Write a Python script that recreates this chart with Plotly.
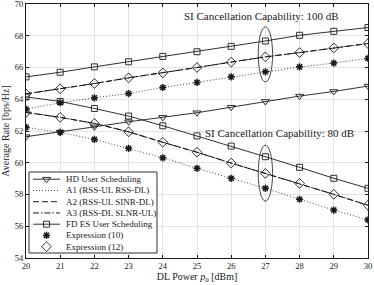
import plotly.graph_objects as go

# ---------------- data ----------------
dl_power = [20, 21, 22, 23, 24, 25, 26, 27, 28, 29, 30]

hd_sched = [61.64, 61.93, 62.26, 62.58, 62.86, 63.15, 63.50, 63.86, 64.20, 64.49, 64.83]

# SI cancellation 100 dB
fd_es_100 = [65.41, 65.70, 66.04, 66.36, 66.70, 66.99, 67.33, 67.67, 68.03, 68.28, 68.52]
a2_100 = [64.34, 64.66, 64.99, 65.35, 65.66, 66.00, 66.34, 66.67, 66.94, 67.23, 67.51]
a3_100 = [64.34, 64.66, 64.99, 65.35, 65.66, 66.00, 66.34, 66.67, 66.94, 67.23, 67.51]
a1_100 = [63.38, 63.78, 64.09, 64.36, 64.74, 65.06, 65.41, 65.73, 66.04, 66.28, 66.57]

# SI cancellation 80 dB
fd_es_80 = [64.15, 63.86, 63.42, 62.94, 62.33, 61.69, 61.05, 60.38, 59.71, 59.02, 58.39]
a2_80 = [63.17, 62.86, 62.48, 61.95, 61.29, 60.66, 59.98, 59.33, 58.70, 58.01, 57.32]
a3_80 = [63.17, 62.86, 62.48, 61.95, 61.29, 60.66, 59.98, 59.33, 58.70, 58.01, 57.32]
a1_80 = [62.23, 61.91, 61.47, 60.91, 60.31, 59.65, 59.02, 58.39, 57.70, 57.02, 56.40]

expr10_100 = a1_100
expr10_80 = a1_80
expr12_100 = a2_100
expr12_80 = a2_80

legend_labels = [
    "HD User Scheduling",
    "A1 (RSS-UL RSS-DL)",
    "A2 (RSS-UL SINR-DL)",
    "A3 (RSS-DL SLNR-UL)",
    "FD ES User Scheduling",
    "Expression (10)",
    "Expression (12)",
]

x_ticks = [20, 21, 22, 23, 24, 25, 26, 27, 28, 29, 30]
y_ticks = [54, 56, 58, 60, 62, 64, 66, 68, 70]

# ---------------- styles ----------------
FONT = "Liberation Serif"
INK = "#1a1a1a"
DOT = "1px,2px"
DASH = "6px,3px"
DASHDOT = "6px,2px,1.5px,2px"

styles = [
    dict(dash="solid", symbol="triangle-down-open", mode="lines+markers"),
    dict(dash=DOT, symbol=None, mode="lines"),
    dict(dash=DASH, symbol=None, mode="lines"),
    dict(dash=DASHDOT, symbol=None, mode="lines"),
    dict(dash="solid", symbol="square-open", mode="lines+markers"),
    dict(dash=None, symbol="asterisk-open", mode="markers"),
    dict(dash=None, symbol="diamond-open", mode="markers"),
]
marker_sizes = {"triangle-down-open": 7, "square-open": 6,
                "asterisk-open": 6, "diamond-open": 7.5}
line_widths = [0.9, 0.8, 1.0, 1.0, 0.9]


def marker_style(symbol):
    mw = 1.5 if symbol == "asterisk-open" else 0.9
    return dict(symbol=symbol, size=marker_sizes[symbol], color=INK,
                line=dict(color=INK, width=mw))


fig = go.Figure()


def add_series(y, idx):
    st = styles[idx]
    kw = dict(x=dl_power, y=y, mode=st["mode"], showlegend=False,
              hoverinfo="skip")
    if "lines" in st["mode"]:
        kw["line"] = dict(color=INK, width=line_widths[idx], dash=st["dash"])
    if st["symbol"]:
        kw["marker"] = marker_style(st["symbol"])
    fig.add_trace(go.Scatter(**kw))


add_series(hd_sched, 0)
for arrs in [(a1_100, a2_100, a3_100, fd_es_100, expr10_100, expr12_100),
             (a1_80, a2_80, a3_80, fd_es_80, expr10_80, expr12_80)]:
    a1, a2, a3, fd, e10, e12 = arrs
    add_series(a1, 1)
    add_series(a2, 2)
    add_series(a3, 3)
    add_series(fd, 4)
    add_series(e10, 5)
    add_series(e12, 6)

# ---------------- custom compact legend (pixel-like overlay axes) ----------------
W, H = 374, 285
ML, MR, MT, MB = 26, 6, 4, 27
box_l, box_r, box_t, box_b = 29, 157, 172, 253
fig.add_trace(go.Scatter(
    x=[box_l, box_r, box_r, box_l, box_l], y=[box_t, box_t, box_b, box_b, box_t],
    mode="lines", fill="toself", fillcolor="white",
    line=dict(color=INK, width=0.9), xaxis="x2", yaxis="y2",
    showlegend=False, hoverinfo="skip"))
row0, drow = 179.2, 11.25
for i, lab in enumerate(legend_labels):
    st = styles[i]
    yy = row0 + i * drow
    if "lines" in st["mode"]:
        fig.add_trace(go.Scatter(x=[33, 60], y=[yy, yy], mode="lines",
                                 line=dict(color=INK, width=line_widths[i], dash=st["dash"]),
                                 xaxis="x2", yaxis="y2", showlegend=False, hoverinfo="skip"))
    if st["symbol"]:
        fig.add_trace(go.Scatter(x=[46.5], y=[yy], mode="markers",
                                 marker=marker_style(st["symbol"]),
                                 xaxis="x2", yaxis="y2", showlegend=False, hoverinfo="skip"))
    fig.add_annotation(x=64, y=yy, xref="x2", yref="y2", text=lab, showarrow=False,
                       xanchor="left", yanchor="middle",
                       font=dict(family=FONT, size=9, color=INK))

# ---------------- annotations & ellipses ----------------
fig.add_annotation(x=24.56, y=69.27, text="SI Cancellation Capability: 100 dB",
                   showarrow=False, xanchor="left", yanchor="middle",
                   font=dict(family=FONT, size=11, color=INK))
fig.add_annotation(x=25.18, y=61.88, text="SI Cancellation Capability: 80 dB",
                   showarrow=False, xanchor="left", yanchor="middle",
                   font=dict(family=FONT, size=11, color=INK))
fig.add_shape(type="circle", xref="x", yref="y", x0=26.79, x1=27.21, y0=65.09, y1=68.56,
              line=dict(color=INK, width=0.8))
fig.add_shape(type="circle", xref="x", yref="y", x0=26.79, x1=27.21, y0=57.58, y1=61.11,
              line=dict(color=INK, width=0.8))

axis_common = dict(showline=True, linecolor=INK, linewidth=0.9, mirror="ticks",
                   ticks="inside", ticklen=3, tickcolor=INK, showgrid=True,
                   gridcolor="#e3e3e3", gridwidth=0.8, zeroline=False,
                   ticklabeloverflow="allow",
                   tickfont=dict(family=FONT, size=8.5, color=INK))

fig.update_layout(
    width=W, height=H, paper_bgcolor="white", plot_bgcolor="white",
    margin=dict(l=ML, r=MR, t=MT, b=MB, autoexpand=False),
    xaxis=dict(range=[20, 30], tickvals=x_ticks, **axis_common,
               title=dict(text="DL Power <i>p</i><sub>0</sub> [dBm]", standoff=2,
                          font=dict(family=FONT, size=10, color=INK))),
    yaxis=dict(range=[54, 70], tickvals=y_ticks, **axis_common,
               title=dict(text="Average Rate [bps/Hz]", standoff=4,
                          font=dict(family=FONT, size=10, color=INK))),
    xaxis2=dict(range=[ML, W - MR], overlaying="x", visible=False, fixedrange=True),
    yaxis2=dict(range=[H - MB, MT], overlaying="y", visible=False, fixedrange=True),
    showlegend=False,
)

fig.write_html("out.html", config={"displayModeBar": False},
               post_script="document.body.style.margin='0px';")
